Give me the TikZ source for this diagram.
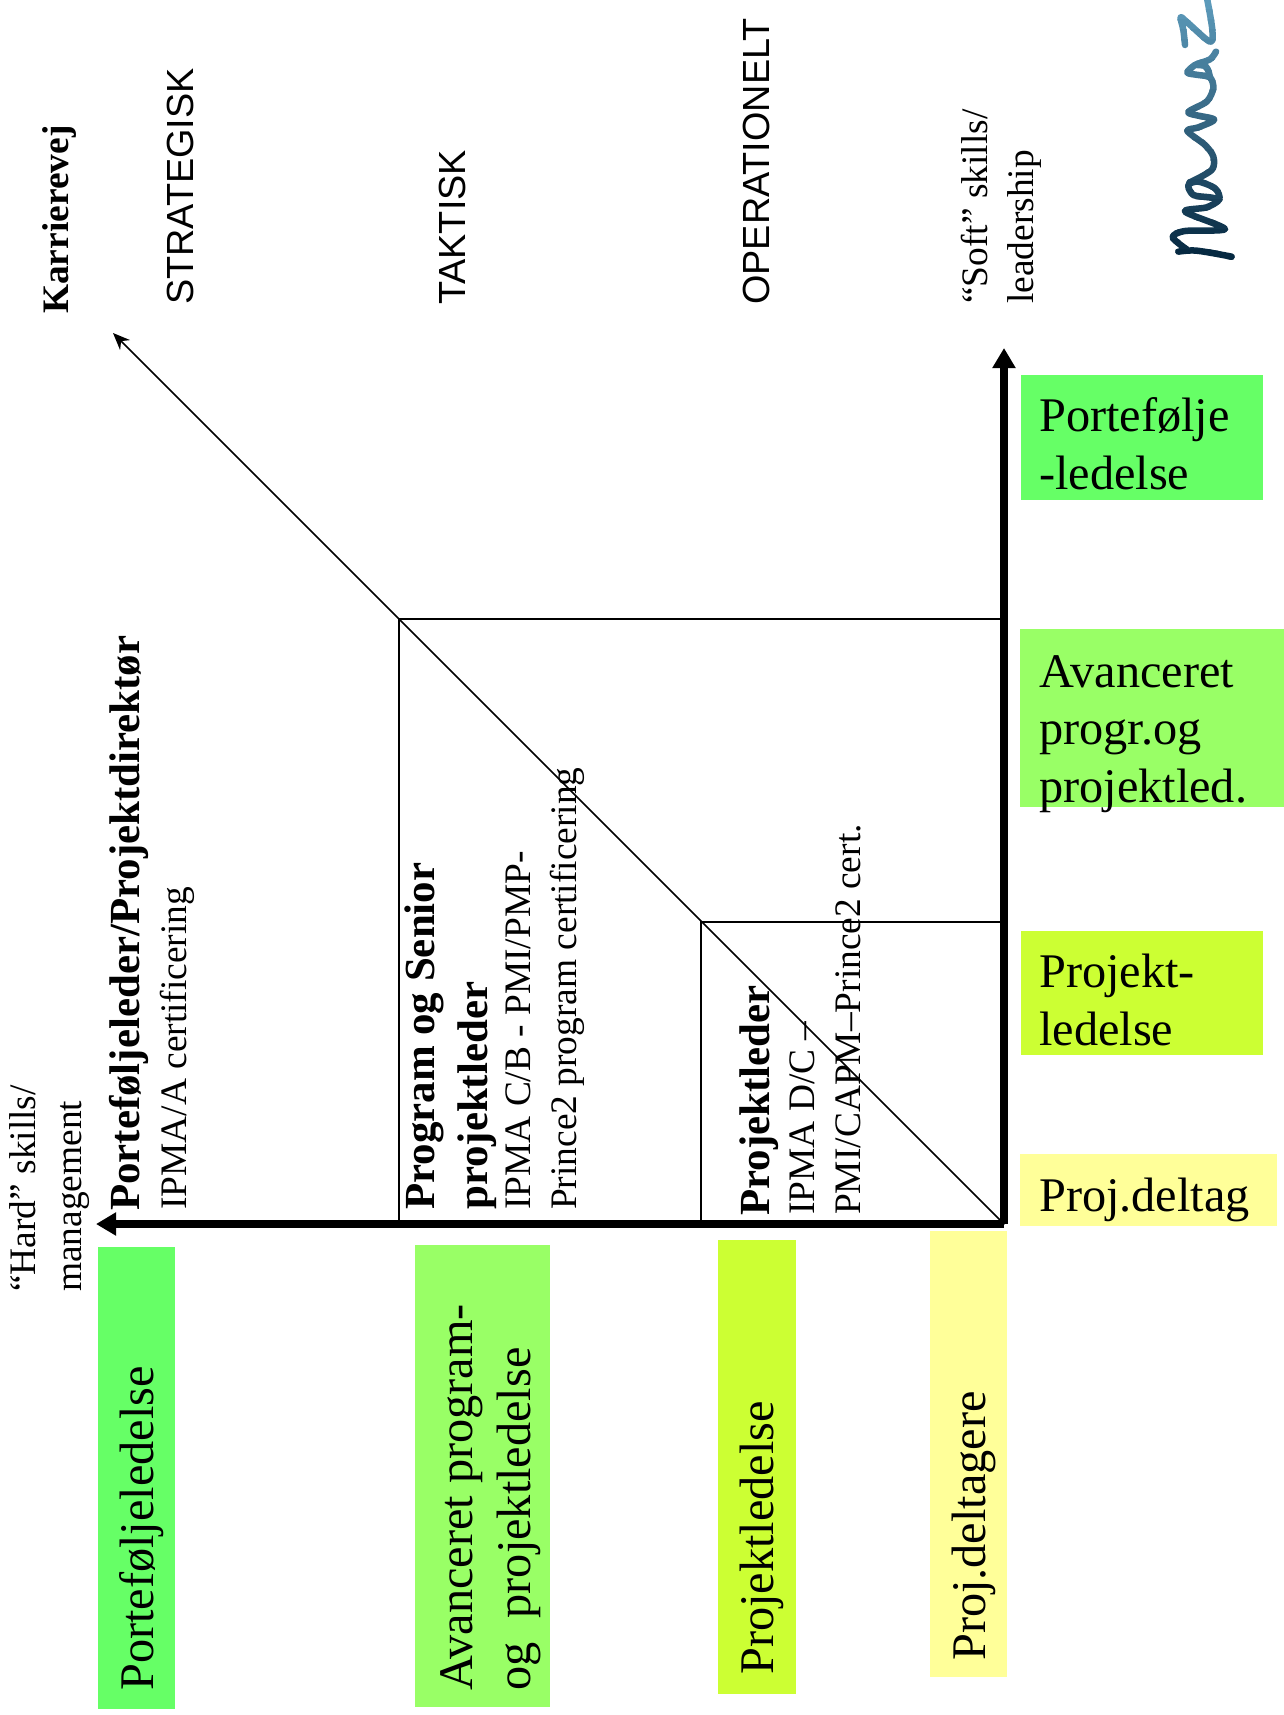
\documentclass[tikz,border=0pt]{standalone}
\usepackage{fontspec}
\setmainfont{Liberation Serif}
\newfontfamily\arialfont{Liberation Sans}
\usetikzlibrary{arrows.meta}
\definecolor{lvlA}{HTML}{66FF66}
\definecolor{lvlB}{HTML}{99FF66}
\definecolor{lvlC}{HTML}{CCFF33}
\definecolor{lvlD}{HTML}{FFFF99}
\definecolor{logoTop}{HTML}{5C9ABA}
\definecolor{logoBot}{HTML}{03243C}
\tikzset{
  big/.style={inner sep=0pt,anchor=base west,align=left,font=\fontsize{48.3}{57.5}\selectfont},
  bigr/.style={big,rotate=90},
  small/.style={inner sep=0pt,anchor=base west,align=left,rotate=90,font=\fontsize{37.4}{46}\selectfont},
  head/.style={inner sep=0pt,anchor=base west,align=left,rotate=90,font=\fontsize{42.9}{53}\selectfont\bfseries},
  level/.style={inner sep=0pt,anchor=base west,rotate=90,font=\fontsize{37.8}{46}\selectfont\arialfont},
  axis/.style={line width=8pt,-{Triangle[length=20pt,width=22pt]}},
  thin line/.style={line width=1.7pt,line cap=round},
  logo stroke/.style={line width=6.5pt,line cap=round,line join=round},
}
\newcommand{\logostrokes}{%
  \draw[logo stroke] plot[smooth,tension=0.55] coordinates {(145,755)(200,752)(305,770)};
  \draw[logo stroke] plot[smooth,tension=0.5] coordinates {(170,748)(128,712)(165,693)(285,687)(165,635)(230,622)(268,598)(255,565)(205,545)(175,555)(190,585)(240,592)(268,598)};
  \draw[logo stroke] plot[smooth,tension=0.5] coordinates {(178,548)(245,510)(250,470)(225,435)(172,393)(205,382)(252,358)(175,338)(230,305)(250,265)(240,232)(205,225)(172,218)(195,195)(240,178)(258,155)};
  \draw[logo stroke] plot[smooth,tension=0.6] coordinates {(195,195)(228,200)(240,232)};
  \draw[logo stroke] plot[smooth,tension=0.55] coordinates {(165,135)(160,90)(152,52)(175,70)(240,125)(247,90)(232,0)};
}
\begin{document}
\begin{tikzpicture}[x=1pt,y=-1pt]
\useasboundingbox (0,0) rectangle (1284,1715);
% colour boxes, right
\fill[lvlA] (1021,375) rectangle (1263,500);
\fill[lvlB] (1020,629) rectangle (1284,807);
\fill[lvlC] (1021,931) rectangle (1263,1055);
\fill[lvlD] (1020,1154) rectangle (1277,1226);
% colour boxes, bottom
\fill[lvlA] (98,1247) rectangle (175,1709);
\fill[lvlB] (415,1245) rectangle (550,1707);
\fill[lvlC] (718,1240) rectangle (796,1694);
\fill[lvlD] (930,1231) rectangle (1007,1677);
% connectors
\coordinate (O) at (1004,1224);
\coordinate (up) at (1004,348);
\coordinate (left) at (96,1224);
\coordinate (diag) at (113,333);
\coordinate (p1) at (399,619);
\coordinate (p2) at (701,922);
\coordinate (p1a) at (399,1224);
\coordinate (p1b) at (1004,619);
\coordinate (p2a) at (701,1224);
\coordinate (p2b) at (1004,922);
\draw[thin line,-{Stealth[length=17pt,width=14pt]}] (O) -- (diag);
\draw[thin line] (p1a) -- (p1) -- (p1b);
\draw[thin line] (p2a) -- (p2) -- (p2b);
\draw[axis] (O) -- (up);
\draw[axis] (O) -- (left);
% right labels
\node[big] (r1) at (1039,489) {Portefølje\\-ledelse};
\node[big] (r2) at (1039,802) {Avanceret\\progr.og\\projektled.};
\node[big] (r3) at (1039,1045) {Projekt-\\ledelse};
\node[big] (r4) at (1039,1211) {Proj.deltag};
% bottom labels
\node[bigr] (b1) at (153,1691) {Porteføljeledelse};
\node[bigr] (b2) at (530,1691) {Avanceret program-\\og\ \ projektledelse};
\node[bigr] (b3) at (773,1675) {Projektledelse};
\node[bigr] (b4) at (985,1661) {Proj.deltagere};
% axis labels
\node[inner sep=0pt,anchor=base west,rotate=90,font=\fontsize{37.4}{46}\selectfont\bfseries] (kv) at (68,314) {Karrierevej};
\node[level] (l1) at (193,305) {STRATEGISK};
\node[level] (l2) at (465,305) {TAKTISK};
\node[level] (l3) at (769,305) {OPERATIONELT};
\node[small] (soft) at (1033,304) {“Soft” skills/\\leadership};
\node[small] (hard) at (81,1292) {“Hard” skills/\\management};
% roles
\node[head] (h1) at (139,1211) {Porteføljeleder/Projektdirektør};
\node[small] (c1) at (186,1210) {IPMA/A certificering};
\node[head] (h2) at (487,1210) {Program og Senior\\projektleder};
\node[small] (c2) at (576,1210) {IPMA C/B - PMI/PMP-\\Prince2 program certificering};
\node[head] (h3) at (769,1216) {Projektleder};
\node[small] (c3) at (860,1215) {IPMA D/C –\\PMI/CAPM–Prince2 cert.};
% logo
\begin{scope}[shift={(1130,0)},x=0.33333pt,y=-0.33333pt]
\foreach \i in {0,...,26}{
  \pgfmathsetmacro{\ya}{\i*30}
  \pgfmathsetmacro{\yb}{\i*30+31}
  \pgfmathsetmacro{\mixv}{100-\i*100/26}
  \begin{scope}
    \clip (0,\ya) rectangle (462,\yb);
    \begin{scope}[color=logoTop!\mixv!logoBot]
      \logostrokes
    \end{scope}
  \end{scope}
}
\end{scope}
\end{tikzpicture}
\end{document}
